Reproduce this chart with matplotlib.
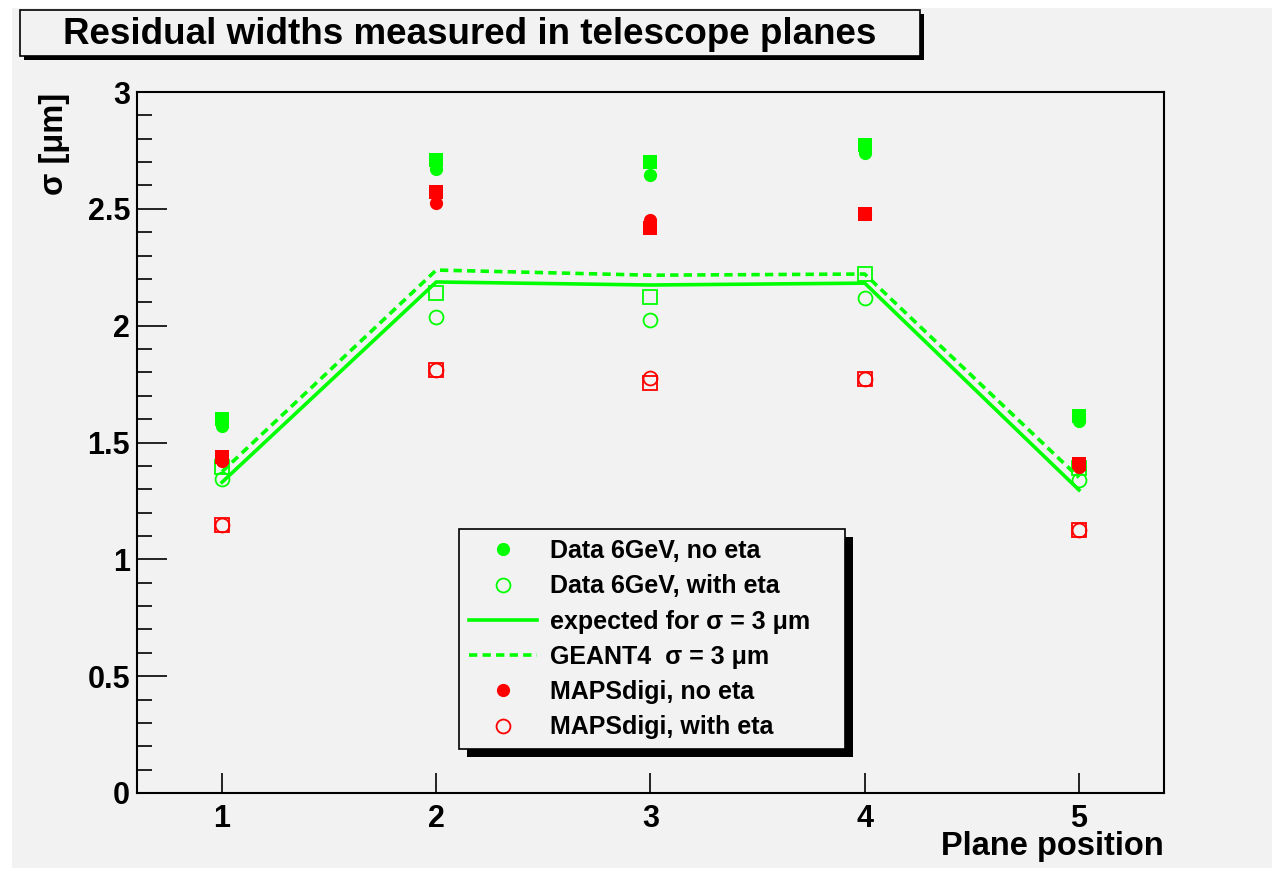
import matplotlib
matplotlib.use("Agg")
import matplotlib.pyplot as plt
from matplotlib.lines import Line2D
from matplotlib.patches import Rectangle
from matplotlib.ticker import MultipleLocator, FuncFormatter

plt.rcParams['font.family'] = ['Liberation Sans', 'DejaVu Sans']
plt.rcParams['font.weight'] = 'bold'

# residual widths (um) per telescope plane
planes = [1, 2, 3, 4, 5]
data_noeta_circ = [1.57, 2.67, 2.645, 2.74, 1.59]
data_noeta_sq = [1.60, 2.71, 2.70, 2.775, 1.615]
data_eta_circ = [1.343, 2.037, 2.024, 2.118, 1.339]
data_eta_sq = [1.395, 2.139, 2.122, 2.221, 1.39]
maps_noeta_circ = [1.42, 2.525, 2.452, 2.478, 1.395]
maps_noeta_sq = [1.44, 2.572, 2.418, 2.478, 1.408]
maps_eta_circ = [1.147, 1.81, 1.776, 1.771, 1.125]
maps_eta_sq = [1.147, 1.81, 1.754, 1.771, 1.125]
expected = [1.33, 2.187, 2.174, 2.182, 1.297]
geant4 = [1.375, 2.238, 2.216, 2.221, 1.35]

W, H = 1272, 873
bg = '#f2f2f2'
green = '#00ff00'
red = '#ff0000'

fig = plt.figure(figsize=(W / 100, H / 100), dpi=100, facecolor='white')
fig.patches.append(Rectangle((12 / W, 1 - 868 / H), 1, 868 / H - 8 / H,
                             transform=fig.transFigure, facecolor=bg,
                             edgecolor='none', zorder=-2))

ax = fig.add_axes([137 / W, 1 - 793 / H, (1164 - 137) / W, (793 - 92) / H])
ax.set_facecolor(bg)

ms = 10
mew = 1.3
# squares first, circles on top
ax.plot(planes, data_noeta_sq, 's', color=green, ms=ms - 0.5, mew=0, ls='none')
ax.plot(planes, data_eta_sq, 's', mfc='none', mec=green, ms=ms, mew=mew, ls='none')
ax.plot(planes, maps_noeta_sq, 's', color=red, ms=ms - 0.5, mew=0, ls='none')
ax.plot(planes, maps_eta_sq, 's', mfc='none', mec=red, ms=ms, mew=mew, ls='none')
ax.plot(planes, expected, '-', color=green, lw=2.6)
ax.plot(planes, geant4, color=green, lw=2.6, ls=(0, (2.3, 1.45)))
ax.plot(planes, data_noeta_circ, 'o', color=green, ms=ms - 0.5, mew=0, ls='none')
ax.plot(planes, data_eta_circ, 'o', mfc='none', mec=green, ms=ms, mew=mew, ls='none')
ax.plot(planes, maps_noeta_circ, 'o', color=red, ms=ms - 0.5, mew=0, ls='none')
ax.plot(planes, maps_eta_circ, 'o', mfc='none', mec=red, ms=ms, mew=mew, ls='none')

ax.set_xlim(0.603, 5.397)
ax.set_ylim(0, 3)
for s in ax.spines.values():
    s.set_linewidth(1.5)

ax.xaxis.set_major_locator(MultipleLocator(1))
ax.yaxis.set_major_locator(MultipleLocator(0.5))
ax.yaxis.set_minor_locator(MultipleLocator(0.1))
ax.yaxis.set_major_formatter(FuncFormatter(lambda v, p: '%g' % v))
ax.tick_params(axis='y', which='major', direction='in', length=21.6, width=1.2,
               labelsize=22, pad=5)
ax.tick_params(axis='y', which='minor', direction='in', length=10.8, width=1.2)
ax.tick_params(axis='x', which='major', direction='in', length=14.4, width=1.2,
               labelsize=22, pad=8)
ax.tick_params(axis='x', which='minor', length=0)

fig.text(1164 / W, 1 - 847 / H, 'Plane position', ha='right', va='center',
         fontsize=23.5, fontweight='bold')
fig.text(55 / W, 1 - 93 / H, 'σ [μm]', ha='center', va='top', rotation=90,
         fontsize=23.5, fontweight='bold')

# title box with drop shadow
bx0, bx1, by0, by1 = 20, 920, 10, 56
fig.patches.append(Rectangle(((bx0 + 4) / W, 1 - (by1 + 4) / H), (bx1 - bx0) / W,
                             (by1 - by0) / H, transform=fig.transFigure,
                             facecolor='black', edgecolor='none', zorder=1))
fig.patches.append(Rectangle((bx0 / W, 1 - by1 / H), (bx1 - bx0) / W,
                             (by1 - by0) / H, transform=fig.transFigure,
                             facecolor=bg, edgecolor='black', lw=1.2, zorder=2))
fig.text((bx0 + bx1) / 2 / W, 1 - 34 / H, 'Residual widths measured in telescope planes',
         ha='center', va='center', fontsize=26.5, fontweight='bold', zorder=3)

handles = [
    Line2D([], [], marker='o', color=green, ms=ms - 0.5, mew=0, ls='none'),
    Line2D([], [], marker='o', mfc='none', mec=green, ms=ms, mew=mew, ls='none'),
    Line2D([], [], color=green, lw=2.6),
    Line2D([], [], color=green, lw=2.6, ls=(0, (2.3, 1.45))),
    Line2D([], [], marker='o', color=red, ms=ms - 0.5, mew=0, ls='none'),
    Line2D([], [], marker='o', mfc='none', mec=red, ms=ms, mew=mew, ls='none'),
]
labels = ['Data 6GeV, no eta', 'Data 6GeV, with eta', 'expected for σ = 3 μm',
          'GEANT4  σ = 3 μm', 'MAPSdigi, no eta', 'MAPSdigi, with eta']
lx0, lx1, ly0, ly1 = 459, 845, 529, 747
leg = ax.legend(handles, labels, loc='upper left', mode='expand',
                bbox_to_anchor=(lx0 / W, 1 - ly1 / H, (lx1 - lx0) / W, (ly1 - ly0) / H),
                bbox_transform=fig.transFigure, borderaxespad=0, fancybox=False,
                framealpha=1, facecolor=bg, edgecolor='black',
                prop={'weight': 'bold', 'size': 18}, labelspacing=0.45,
                borderpad=0.4, handlelength=2.7, handletextpad=0.52)
leg.get_frame().set_linewidth(1.2)
leg.set_zorder(6)

# drop shadow sized from the drawn legend frame
fig.canvas.draw()
fb = leg.get_frame().get_window_extent().transformed(fig.transFigure.inverted())
ax.add_patch(Rectangle((fb.x0 + 8 / W, fb.y0 - 8 / H), fb.width, fb.height,
                       transform=fig.transFigure, facecolor='black',
                       edgecolor='none', zorder=5.5, clip_on=False))

fig.savefig('out.png', dpi=100, facecolor=fig.get_facecolor())
